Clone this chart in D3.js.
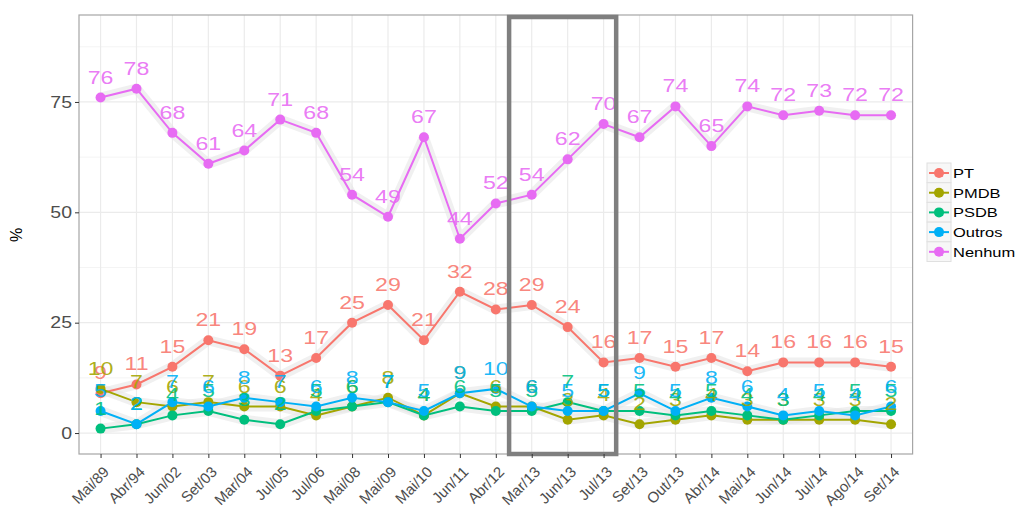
<!DOCTYPE html>
<html><head><meta charset="utf-8">
<script src="https://cdn.jsdelivr.net/npm/d3@7"></script>
<style>body{margin:0;background:#fff}svg{display:block}text{font-family:"Liberation Sans",Arial,sans-serif}</style>
</head><body>
<script>
const categories = ["Mai/89","Abr/94","Jun/02","Set/03","Mar/04","Jul/05","Jul/06","Mai/08","Mai/09","Mai/10","Jun/11","Abr/12","Mar/13","Jun/13","Jul/13","Set/13","Out/13","Abr/14","Mai/14","Jun/14","Jul/14","Ago/14","Set/14"];
const seriesNames = ["PT","PMDB","PSDB","Outros","Nenhum"];
const ptValues     = [9,11,15,21,19,13,17,25,29,21,32,28,29,24,16,17,15,17,14,16,16,16,15];
const pmdbValues   = [10,7,6,7,6,6,4,6,8,4,9,6,6,3,4,2,3,4,3,3,3,3,2];
const psdbValues   = [1,2,4,5,3,2,5,6,7,4,6,5,5,7,5,5,4,5,4,3,4,5,5];
const outrosValues = [5,2,7,6,8,7,6,8,7,5,9,10,6,5,5,9,5,8,6,4,5,4,6];
const nenhumValues = [76,78,68,61,64,71,68,54,49,67,44,52,54,62,70,67,74,65,74,72,73,72,72];
const yTicks = [0,25,50,75];
const highlightRange = ["Mar/13","Jul/13"];

const colors = ["#F8766D","#A3A500","#00BF7D","#00B0F6","#E76BF3"];
const allValues = [ptValues,pmdbValues,psdbValues,outrosValues,nenhumValues];

const W=1016,H=509;
const P={left:79,right:912.6,top:15,bottom:454};
const SX=1.22; // horizontal stretch of text as in the reference
const svg=d3.select("body").append("svg").attr("width",W).attr("height",H);

const x=d3.scalePoint().domain(categories).range([P.left,P.right]).padding(0.6);
const y=d3.scaleLinear().domain([-4.75,94.7]).range([P.bottom,P.top]);

// grid
const g=svg.append("g");
[12.5,37.5,62.5,87.5].forEach(v=>g.append("line").attr("x1",P.left).attr("x2",P.right).attr("y1",y(v)).attr("y2",y(v)).attr("stroke","#f4f4f4").attr("stroke-width",1));
yTicks.forEach(v=>g.append("line").attr("x1",P.left).attr("x2",P.right).attr("y1",y(v)).attr("y2",y(v)).attr("stroke","#ebebeb").attr("stroke-width",1.2));
categories.forEach(c=>g.append("line").attr("x1",x(c)).attr("x2",x(c)).attr("y1",P.top).attr("y2",P.bottom).attr("stroke","#ebebeb").attr("stroke-width",1.2));

const line=d3.line().x((d,i)=>x(categories[i])).y(d=>y(d));
// shadow bands
allValues.forEach(vals=>{
  svg.append("path").attr("d",line(vals)).attr("fill","none").attr("stroke","#e6e6e6").attr("stroke-opacity",0.6).attr("stroke-width",10).attr("stroke-linejoin","round");
});
allValues.forEach((vals,k)=>{
  svg.append("path").attr("d",line(vals)).attr("fill","none").attr("stroke",colors[k]).attr("stroke-width",2);
});
allValues.forEach((vals,k)=>{
  svg.append("g").selectAll("circle").data(vals).join("circle")
    .attr("cx",(d,i)=>x(categories[i])).attr("cy",d=>y(d)).attr("r",5).attr("fill",colors[k]);
});
allValues.forEach((vals,k)=>{
  svg.append("g").selectAll("text").data(vals).join("text")
    .attr("transform",(d,i)=>`translate(${x(categories[i])},${y(d)-14}) scale(${SX},1)`)
    .attr("text-anchor","middle").attr("font-size",19).attr("fill",colors[k]).attr("fill-opacity",0.9)
    .text(d=>d);
});

// panel border
svg.append("rect").attr("x",P.left).attr("y",P.top).attr("width",P.right-P.left).attr("height",P.bottom-P.top)
  .attr("fill","none").attr("stroke","#a6a6a6").attr("stroke-width",1.2);

// highlight box
const step=x.step();
const hx1=x(highlightRange[0])-step*0.63, hx2=x(highlightRange[1])+step*0.35;
svg.append("rect").attr("x",hx1).attr("y",P.top+2).attr("width",hx2-hx1).attr("height",P.bottom-P.top-2)
  .attr("fill","none").attr("stroke","#7f7f7f").attr("stroke-width",4.5);

// axes
const yAxis=svg.append("g").attr("transform",`translate(${P.left},0)`)
  .call(d3.axisLeft(y).tickValues(yTicks).tickSize(4).tickPadding(3));
const xAxis=svg.append("g").attr("transform",`translate(0,${P.bottom})`)
  .call(d3.axisBottom(x).tickSize(4).tickPadding(3));
[yAxis,xAxis].forEach(a=>{a.select(".domain").remove();a.selectAll("line").attr("stroke","#333");a.selectAll("text").attr("fill","#4d4d4d").attr("font-size",15).attr("font-family","Liberation Sans, Arial, sans-serif");});
yAxis.selectAll("text").attr("x",0).attr("font-size",16).attr("transform",`translate(-7,0) scale(${SX},1)`);
xAxis.selectAll("text").attr("text-anchor","end").attr("dy",0).attr("transform","translate(4,14) rotate(-45)");

svg.append("text").attr("transform",`translate(22,235) rotate(-90)`).attr("text-anchor","middle").attr("font-size",16).attr("fill","#000").text("%");

// legend
const lg=svg.append("g").attr("transform","translate(927,163)");
seriesNames.forEach((n,k)=>{
  const r=lg.append("g").attr("transform",`translate(0,${k*19.7})`);
  r.append("rect").attr("x",0).attr("y",0).attr("width",24).attr("height",19.7).attr("fill","#f7f7f7").attr("stroke","#e0e0e0");
  r.append("line").attr("x1",2).attr("x2",22).attr("y1",10).attr("y2",10).attr("stroke",colors[k]).attr("stroke-width",2);
  r.append("circle").attr("cx",12).attr("cy",10).attr("r",5).attr("fill",colors[k]);
  r.append("text").attr("x",12).attr("y",11).attr("text-anchor","middle").attr("font-size",14).attr("font-weight","bold").attr("fill",colors[k]).text("a").attr("dy","0.2em");
  r.append("text").attr("transform",`translate(26,15) scale(${SX},1)`).attr("font-size",13.5).attr("fill","#000").text(n);
});
</script>
</body></html>
